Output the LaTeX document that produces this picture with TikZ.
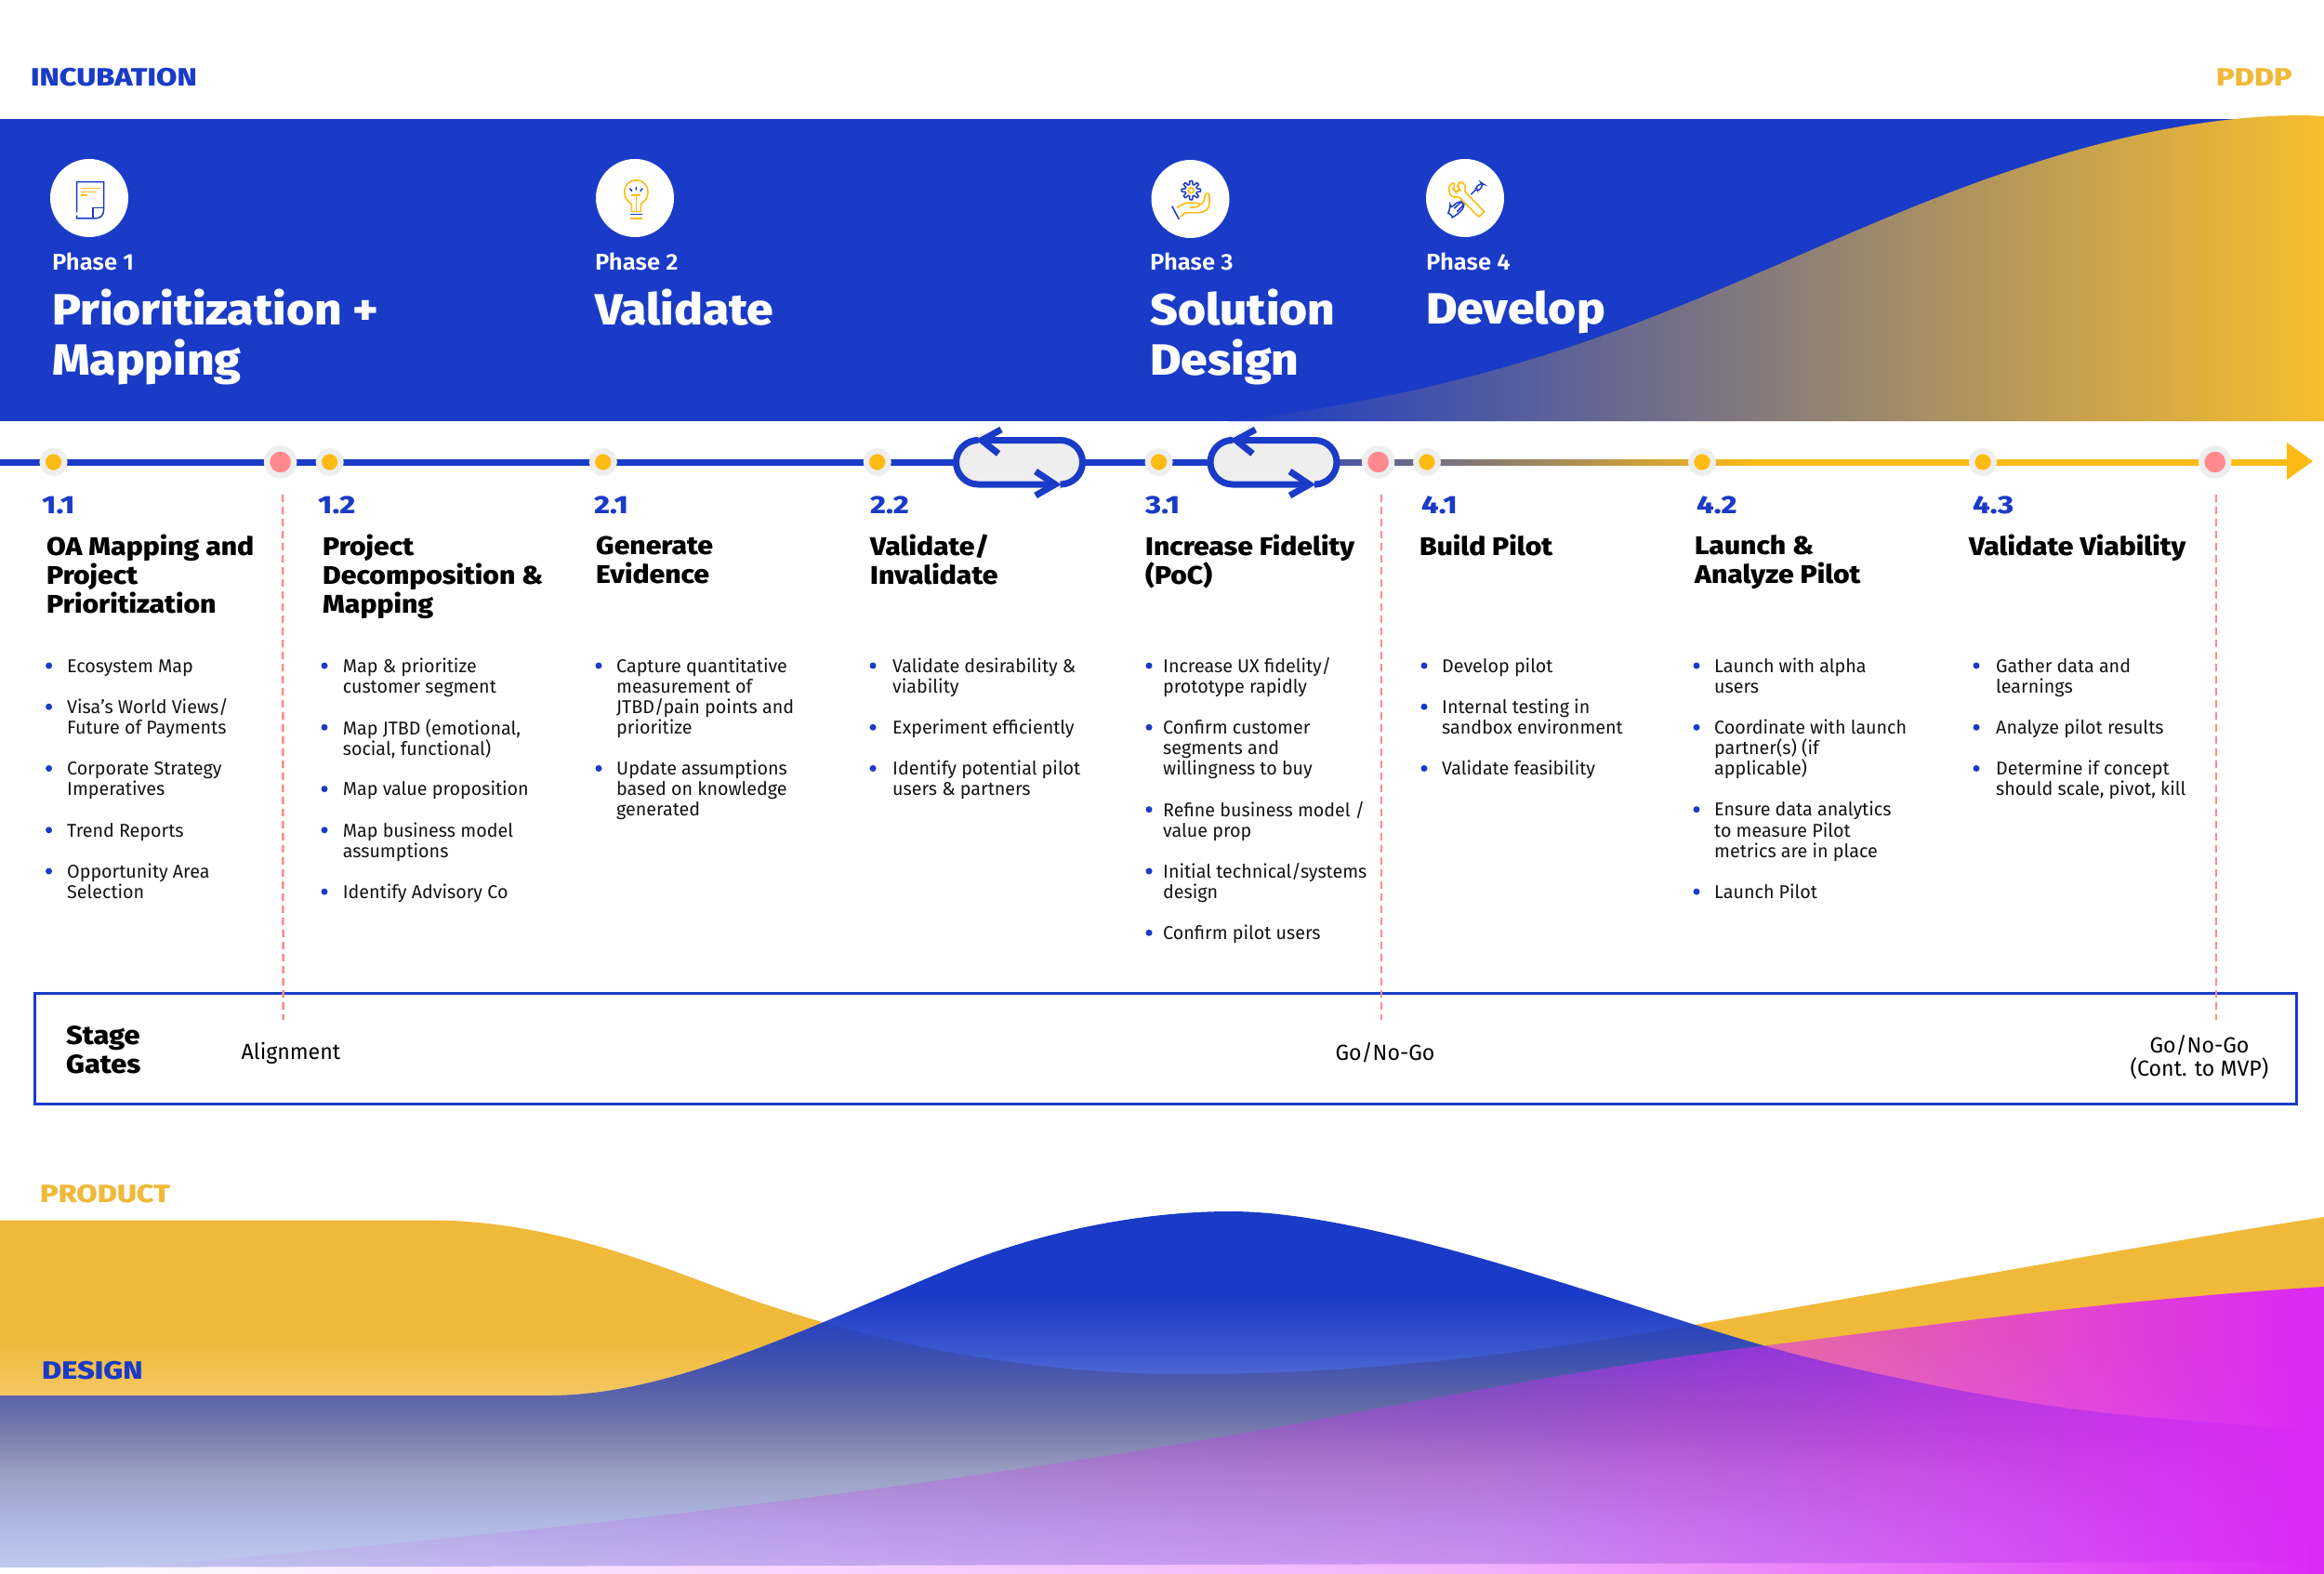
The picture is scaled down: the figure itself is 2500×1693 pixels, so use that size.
\documentclass[tikz,border=0pt]{standalone}
\usepackage{fontspec}
\usetikzlibrary{calc}
\setmainfont{Fira Sans}[FakeStretch=0.985]
\newfontfamily\fxb{Fira Sans ExtraBold}[FakeStretch=1.095]
\newfontfamily\fcap{Fira Sans ExtraBold}[FakeStretch=1.2]
\newfontfamily\fnum{Fira Sans ExtraBold}[FakeStretch=1.2]
\newfontfamily\fsb{Fira Sans SemiBold}[FakeStretch=1.05]
\definecolor{vblue}{HTML}{1A3BC7}
\definecolor{vgold}{HTML}{F0B93A}
\definecolor{vgoldr}{HTML}{F8BE2C}
\definecolor{vorange}{HTML}{FDBB13}
\definecolor{vslate}{HTML}{4A58A5}
\definecolor{vpink}{HTML}{FF8A8E}
\definecolor{vgrey}{HTML}{EEEEEE}
\definecolor{vmag}{HTML}{DC28F6}
\definecolor{vbody}{HTML}{141414}
\tikzset{
  x=1pt,y=-1pt,
  dotnode/.style={circle,fill=vorange,draw=vgrey,line width=6.2pt,minimum size=23.8pt,inner sep=0pt},
  gatenode/.style={circle,fill=vpink,draw=vgrey,line width=6.4pt,minimum size=29pt,inner sep=0pt},
  tlblue/.style={draw=vblue,line width=7pt},
  gatedash/.style={draw=vpink,line width=2.5pt,dash pattern=on 8pt off 5pt},
  numtxt/.style={anchor=base west,inner sep=0pt,text=vblue,font=\fnum\fontsize{27}{31}\selectfont},
  headtxt/.style={anchor=north west,inner sep=0pt,align=left,text=black,font=\fxb\fontsize{27.5}{31}\selectfont},
  bodytxt/.style={anchor=north west,inner sep=0pt,align=left,text=vbody,font=\fontsize{20}{22.1}\selectfont},
  bulletdot/.style={circle,fill=vblue,inner sep=0pt,minimum size=7pt},
  phasetxt/.style={anchor=base west,inner sep=0pt,text=white,font=\fsb\fontsize{24.5}{28}\selectfont},
  titletxt/.style={anchor=north west,inner sep=0pt,align=left,text=white,font=\fxb\fontsize{47}{54}\selectfont},
  iconcirc/.style={circle,fill=white,inner sep=0pt,minimum size=84pt},
  iconb/.style={draw=vblue,line width=1.5pt},
  icony/.style={draw=vorange,line width=1.6pt},
  sidetxt/.style={anchor=base west,inner sep=0pt,font=\fcap\fontsize{27}{30}\selectfont},
  gatetxt/.style={inner sep=0pt,align=center,text=black,font=\fontsize{23.5}{25}\selectfont},
  stagetxt/.style={anchor=north west,inner sep=0pt,align=left,text=black,font=\fxb\fontsize{28}{31}\selectfont},
  loopline/.style={draw=vblue,line width=7pt,rounded corners=23.75pt},
  chev/.style={draw=vblue,line width=7pt,miter limit=10},
}
\newcommand{\bul}[3]{%
  \node[bulletdot] at (\cd,{716+22.1*#2}) {};
  \node[bodytxt] (#1r#2) at (\ct,{723+22.1*#2-16}) {\rule{0pt}{16pt}#3};
}
\newcommand{\loopshape}[1]{%
  \begin{scope}[xshift=#1pt]
    \fill[vgrey,rounded corners=20pt] (5,476) rectangle (138,518);
    \fill[vgrey] (23,467) rectangle (37,478);
    \fill[vgrey] (105,515) rectangle (117,527);
    \draw[loopline] (23.5,473.5) -- (3.5,473.5) -- (3.5,521) -- (108,521);
    \draw[loopline] (117,521) -- (139.5,521) -- (139.5,473.5) -- (33,473.5);
    \draw[chev] (52,462) -- (31,473.5) -- (49,488);
    \draw[chev] (89,507) -- (110,521) -- (89,533);
  \end{scope}%
}
\begin{document}
\begin{tikzpicture}
\useasboundingbox (0,0) rectangle (2500,1693);
\fill[white] (0,0) rectangle (2500,1693);

% ---- bottom waves: gold
\begin{scope}
\clip (0,1312.5) -- (462,1312.5)
  .. controls (590,1312.5) and (700,1358) .. (797,1394)
  .. controls (950,1448) and (1110,1478) .. (1276,1478)
  .. controls (1500,1478) and (1680,1449) .. (1834,1423)
  .. controls (2050,1386.5) and (2300,1340) .. (2500,1309)
  -- (2500,1690) -- (0,1690) -- cycle;
\fill[vgold] (0,1300) rectangle (2500,1440);
\foreach \yy in {1440,1442,...,1688}{
  \pgfmathsetmacro\aa{(\yy<1510)?(1-.25*(\yy-1440)/70):((\yy<1582)?(.75-.45*(\yy-1510)/72):((\yy<1640)?(.3-.25*(\yy-1582)/58):(.05*(1690-\yy)/50)))}
  \fill[vgold,opacity=\aa] (0,\yy) rectangle (2500,\yy+2);
}
\end{scope}
% blue
\begin{scope}
\clip (0,1501) -- (590,1501)
  .. controls (720,1501) and (860,1432) .. (1021,1365)
  .. controls (1121,1323.4) and (1230,1303) .. (1324,1303)
  .. controls (1480,1303) and (1740,1402.5) .. (1898,1447.5)
  .. controls (2000,1476.6) and (2180,1513) .. (2297,1523)
  .. controls (2360,1529) and (2440,1533) .. (2500,1544)
  -- (2500,1680) -- (0,1686) -- cycle;
\fill[vblue] (0,1300) rectangle (2500,1394);
\foreach \yy in {1394,1396,...,1686}{
  \pgfmathsetmacro\aa{(\yy<1457)?(1-.16*(\yy-1394)/63):((\yy<1510)?(.84-.17*(\yy-1457)/53):((\yy<1582)?(.67-.24*(\yy-1510)/72):(.43-.16*(\yy-1582)/104)))}
  \fill[vblue,opacity=\aa] (0,\yy) rectangle (2500,\yy+2);
}
\end{scope}
% magenta
\begin{scope}
\clip (0,1686) -- (143,1686)
  .. controls (400,1662) and (800,1630) .. (1276,1552)
  .. controls (1440,1525) and (1700,1470) .. (1898,1447.5)
  .. controls (2100,1422) and (2300,1396) .. (2500,1384)
  -- (2500,1693) -- (0,1693) -- cycle;
\foreach \xx in {0,4,...,2496}{
  \pgfmathsetmacro\aa{(\xx<1600)?(.36*\xx/1600):((\xx<2000)?(.36+.26*(\xx-1600)/400):(.62+.38*(\xx-2000)/500))}
  \fill[vmag,opacity=\aa] (\xx,1380) rectangle (\xx+4,1693);
}
\end{scope}

% ---- labels
\node[sidetxt,text=vblue] (lbinc) at (33,93) {INCUBATION};
\node[sidetxt,text=vgold] (lbpddp) at (2384,93) {PDDP};
\node[sidetxt,text=vgold] (lbprod) at (43,1293) {PRODUCT};
\node[sidetxt,text=vblue] (lbdes) at (45,1483) {DESIGN};

% ---- band
\fill[vblue] (0,128) rectangle (2500,453);
\shade[left color=vblue,right color=vgoldr]
  (1322,453) .. controls (1600,420) and (1760,350) .. (1900,290)
  .. controls (2040,230) and (2260,124) .. (2480,124)
  -- (2500,125) -- (2500,453) -- cycle;

% ---- icons
\node[iconcirc] (ic1) at (96,213) {};
\node[iconcirc] (ic2) at (683,213) {};
\node[iconcirc] (ic3) at (1280.5,214) {};
\node[iconcirc] (ic4) at (1576,213) {};
% doc
\begin{scope}[shift={(40,160)},x=0.3333pt,y=-0.3333pt]
 \draw[iconb] (128,205) -- (128,107) -- (215,107) -- (215,195) .. controls (215,215) and (205,225) .. (185,225) -- (128,225) -- (128,215);
 \draw[iconb] (180,225) -- (180,190) -- (215,190);
 \draw[icony] (142,128) -- (203,128) (142,139) -- (192,139) (142,150) -- (163,150);
\end{scope}
% bulb
\begin{scope}[shift={(630,160)},x=0.3333pt,y=-0.3333pt]
 \draw[icony] (148,203) -- (148,178) .. controls (135,170) and (125,157) .. (125,140)
   .. controls (125,118) and (142,101) .. (163,101) .. controls (184,101) and (201,118) .. (201,140)
   .. controls (201,157) and (191,170) .. (178,178) -- (178,203) -- cycle;
 \draw[icony] (148,150) -- (178,150) (163,150) -- (163,203);
 \draw[iconb] (150,137) -- (142,128) (163,134) -- (163,123) (176,137) -- (184,128);
 \draw[iconb] (143,212) -- (182,212);
 \draw[icony] (143,225) -- (182,225);
\end{scope}
% hand + gear
\begin{scope}[shift={(1230,160)},x=0.3333pt,y=-0.3333pt]
 \draw[iconb] plot[samples=97,domain=0:360,smooth] ({154+(25+5.5*sign(cos(8*\x)))*cos(\x)},{134+(25+5.5*sign(cos(8*\x)))*sin(\x)});
 \draw[icony] (154,134) circle[radius=9];
 \draw[iconb] (92,185) -- (115,228);
 \draw[icony] (108,190) .. controls (125,182) and (135,172) .. (152,174) -- (178,176) .. controls (186,180) and (178,188) .. (170,188) -- (150,190);
 \draw[icony] (182,180) .. controls (192,178) and (197,170) .. (199,150) .. controls (203,142) and (213,142) .. (213,150) -- (213,175) .. controls (213,195) and (198,205) .. (180,206) -- (145,206) .. controls (135,206) and (125,212) .. (118,220);
\end{scope}
% tools
\begin{scope}[shift={(1525,160)},x=0.3333pt,y=-0.3333pt]
 \draw[iconb,rounded corners=5pt] (105,195) -- (135,165) -- (155,185) -- (125,215) .. controls (115,220) and (100,205) .. cycle;
 \draw[iconb] (118,193) -- (140,172) (127,203) -- (148,182);
 \draw[iconb] (172,148) -- (188,132);
 \draw[iconb,rounded corners=3pt] (186,126) -- (206,110) -- (212,114) -- (196,138) -- cycle;
 \fill[white] (118,112) -- (214,200) -- (196,216) -- (102,130) -- cycle;
 \draw[icony,rounded corners=3pt] (122,110) .. controls (108,112) and (100,124) .. (102,136)
   .. controls (104,150) and (118,158) .. (130,152) -- (190,213) .. controls (196,218) and (202,216) .. (207,211)
   .. controls (212,206) and (212,200) .. (208,196) -- (150,136) .. controls (156,122) and (148,110) .. (136,106) -- (128,122) -- (138,132) -- (124,140) -- (114,130) -- cycle;
\end{scope}

% ---- phase text
\node[phasetxt] (ph1) at (56,291) {Phase 1};
\node[phasetxt] (ph2) at (640,291) {Phase 2};
\node[phasetxt] (ph3) at (1237,291) {Phase 3};
\node[phasetxt] (ph4) at (1534,291) {Phase 4};
\node[titletxt] (ti1) at (56,311) {\rule{0pt}{37pt}Prioritization +\\Mapping};
\node[titletxt] (ti2) at (640,311) {\rule{0pt}{37pt}Validate};
\node[titletxt] (ti3) at (1237,311) {\rule{0pt}{37pt}Solution\\Design};
\node[titletxt] (ti4) at (1534,311) {\rule{0pt}{37pt}Develop};

% ---- timeline
\coordinate (tstart) at (0,497.5);
\coordinate (la) at (1028,497.5);
\coordinate (lb) at (1166,497.5);
\coordinate (lc) at (1302,497.5);
\coordinate (ge) at (1888,497.5);
\coordinate (tipb) at (2460,497.5);
\draw[tlblue] (tstart) -- (la) (lb) -- (lc);
\foreach \xx in {1438,1441,...,1888}{
  \pgfmathtruncatemacro\pp{(\xx-1438)/4.5}
  \fill[vorange!\pp!vslate] (\xx,494) rectangle (\xx+3.5,501);
}
\draw[draw=vorange,line width=7pt] (ge) -- (tipb);
\node[dotnode] (n11) at (57.5,497) {};
\node[gatenode] (g1) at (301.6,497) {};
\node[dotnode] (n12) at (354.7,497) {};
\node[dotnode] (n21) at (648.8,497) {};
\node[dotnode] (n22) at (943.7,497) {};
\node[dotnode] (n31) at (1246.6,497) {};
\node[gatenode] (g2) at (1482.6,497) {};
\node[dotnode] (n41) at (1535,497) {};
\node[dotnode] (n42) at (1831,497) {};
\node[dotnode] (n43) at (2133,497) {};
\node[gatenode] (g3) at (2382.7,497) {};
\fill[vorange] (2460,476) -- (2488,496) -- (2460,516) -- cycle;
\loopshape{1025}
\loopshape{1298.5}

% ---- dashed
\coordinate (d1a) at (304,532); \coordinate (d1b) at (304.6,1097);
\coordinate (d2a) at (1486,532); \coordinate (d2b) at (1486,1097);
\coordinate (d3a) at (2384,532); \coordinate (d3b) at (2384,1097);

% ---- stage gate box
\node[draw=vblue,line width=3pt,inner sep=0pt,minimum width=2433pt,minimum height=119.5pt] (stage) at (1253.5,1127.75) {};
\draw[gatedash] (d1a) -- (d1b);
\draw[gatedash] (d2a) -- (d2b);
\draw[gatedash] (d3a) -- (d3b);
\node[stagetxt] (stg) at (71,1100.5) {\rule{0pt}{23pt}Stage\\Gates};
\node[gatetxt] (gt1) at (313,1132.5) {Alignment};
\node[gatetxt] (gt2) at (1490,1132.5) {Go/No-Go};
\node[gatetxt] (gt3) at (2366,1137.5) {Go/No-Go\\(Cont. to MVP)};

% ---- numbers
\node[numtxt] (h11) at (45,552) {1.1};
\node[numtxt] (h12) at (342,552) {1.2};
\node[numtxt] (h21) at (639,552) {2.1};
\node[numtxt] (h22) at (936,552) {2.2};
\node[numtxt] (h31) at (1232,552) {3.1};
\node[numtxt] (h41) at (1529,552) {4.1};
\node[numtxt] (h42) at (1825,552) {4.2};
\node[numtxt] (h43) at (2122,552) {4.3};
% ---- headings
\node[headtxt] (t11) at (50,574.5) {\rule{0pt}{22pt}OA Mapping and\\Project\\Prioritization};
\node[headtxt] (t12) at (347,574.5) {\rule{0pt}{22pt}Project\\Decomposition \&\\Mapping};
\node[headtxt] (t21) at (641,574.5) {\rule{0pt}{22pt}Generate\\Evidence};
\node[headtxt] (t22) at (936,574.5) {\rule{0pt}{22pt}Validate/\\Invalidate};
\node[headtxt] (t31) at (1232,574.5) {\rule{0pt}{22pt}Increase Fidelity\\(PoC)};
\node[headtxt] (t41) at (1527,574.5) {\rule{0pt}{22pt}Build Pilot};
\node[headtxt] (t42) at (1823,574.5) {\rule{0pt}{22pt}Launch \&\\Analyze Pilot};
\node[headtxt] (t43) at (2118,574.5) {\rule{0pt}{22pt}Validate Viability};

% ---- bullets
\def\cd{52.6}\def\ct{72}
\bul{a}{0}{Ecosystem Map}
\bul{a}{2}{Visa’s World Views/\\Future of Payments}
\bul{a}{5}{Corporate Strategy\\Imperatives}
\bul{a}{8}{Trend Reports}
\bul{a}{10}{Opportunity Area\\Selection}
\def\cd{349}\def\ct{368.6}
\bul{b}{0}{Map \& prioritize\\customer segment}
\bul{b}{3}{Map JTBD (emotional,\\social, functional)}
\bul{b}{6}{Map value proposition}
\bul{b}{8}{Map business model\\assumptions}
\bul{b}{11}{Identify Advisory Co}
\def\cd{644}\def\ct{663}
\bul{c}{0}{Capture quantitative\\measurement of\\JTBD/pain points and\\prioritize}
\bul{c}{5}{Update assumptions\\based on knowledge\\generated}
\def\cd{939}\def\ct{960}
\bul{d}{0}{Validate desirability \&\\viability}
\bul{d}{3}{Experiment efficiently}
\bul{d}{5}{Identify potential pilot\\users \& partners}
\def\cd{1236}\def\ct{1251}
\bul{e}{0}{Increase UX fidelity/\\prototype rapidly}
\bul{e}{3}{Confirm customer\\segments and\\willingness to buy}
\bul{e}{7}{Refine business model /\\value prop}
\bul{e}{10}{Initial technical/systems\\design}
\bul{e}{13}{Confirm pilot users}
\def\cd{1532}\def\ct{1551}
\bul{f}{0}{Develop pilot}
\bul{f}{2}{Internal testing in\\sandbox environment}
\bul{f}{5}{Validate feasibility}
\def\cd{1825}\def\ct{1844}
\bul{g}{0}{Launch with alpha\\users}
\bul{g}{3}{Coordinate with launch\\partner(s) (if\\applicable)}
\bul{g}{7}{Ensure data analytics\\to measure Pilot\\metrics are in place}
\bul{g}{11}{Launch Pilot}
\def\cd{2126}\def\ct{2147}
\bul{h}{0}{Gather data and\\learnings}
\bul{h}{3}{Analyze pilot results}
\bul{h}{5}{Determine if concept\\should scale, pivot, kill}
\end{tikzpicture}
\end{document}
